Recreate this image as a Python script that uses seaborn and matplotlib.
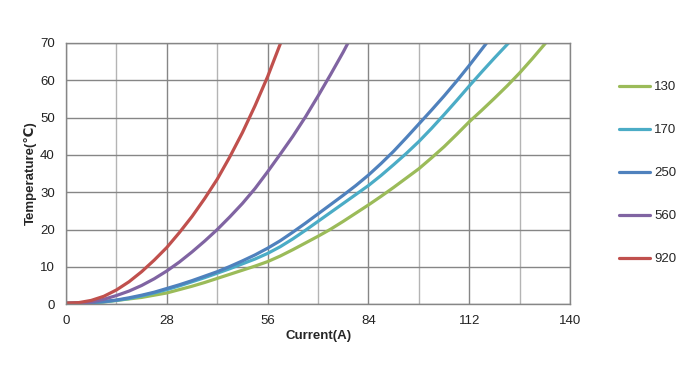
import matplotlib
matplotlib.use('Agg')
import matplotlib.pyplot as plt
from matplotlib.ticker import MultipleLocator
import seaborn as sns
import pandas as pd

# values (current A -> temperature C)
x_130 = [0, 3.5, 7, 10.5, 14, 17.5, 21, 24.5, 28, 31.5, 35, 38.5, 42, 45.5, 49, 52.5, 56,
         59.5, 63, 66.5, 70, 73.5, 77, 80.5, 84, 87.5, 91, 94.5, 98, 101.5, 105, 108.5, 112,
         115.5, 119, 122.5, 126, 129.5, 133.2]
y_130 = [0.2, 0.2, 0.3, 0.6, 1.0, 1.4, 1.8, 2.4, 3.0, 3.9, 4.8, 5.8, 6.9, 8.0, 9.1, 10.2, 11.4,
         12.9, 14.6, 16.4, 18.2, 20.1, 22.2, 24.4, 26.6, 28.9, 31.3, 33.8, 36.3, 39.2, 42.2, 45.5, 48.9,
         52.0, 55.2, 58.5, 62.0, 65.8, 70]

x_170 = [0, 3.5, 7, 10.5, 14, 17.5, 21, 24.5, 28, 31.5, 35, 38.5, 42, 45.5, 49, 52.5, 56,
         59.5, 63, 66.5, 70, 73.5, 77, 80.5, 84, 87.5, 91, 94.5, 98, 101.5, 105, 108.5, 112,
         115.5, 119, 122.9]
y_170 = [0.2, 0.3, 0.4, 0.6, 1.0, 1.5, 2.2, 3.0, 3.9, 4.9, 6.0, 7.1, 8.3, 9.5, 10.8, 12.1, 13.6,
         15.4, 17.5, 19.8, 22.2, 24.6, 27.0, 29.4, 31.8, 34.5, 37.4, 40.4, 43.6, 47.1, 50.8, 54.6, 58.5,
         62.3, 66.0, 70]

x_250 = [0, 3.5, 7, 10.5, 14, 17.5, 21, 24.5, 28, 31.5, 35, 38.5, 42, 45.5, 49, 52.5, 56,
         59.5, 63, 66.5, 70, 73.5, 77, 80.5, 84, 87.5, 91, 94.5, 98, 101.5, 105, 108.5, 112,
         116.8]
y_250 = [0.2, 0.3, 0.4, 0.7, 1.1, 1.7, 2.4, 3.2, 4.2, 5.2, 6.3, 7.5, 8.7, 10.1, 11.6, 13.2, 15.0,
         17.0, 19.3, 21.7, 24.2, 26.7, 29.2, 31.8, 34.6, 37.7, 41.0, 44.6, 48.3, 52.0, 55.8, 59.8, 64.0,
         70]

x_560 = [0, 3.5, 7, 10.5, 14, 17.5, 21, 24.5, 28, 31.5, 35, 38.5, 42, 45.5, 49, 52.5, 56,
         59.5, 63, 66.5, 70, 73.5, 77, 78.3]
y_560 = [0.2, 0.3, 0.6, 1.3, 2.3, 3.5, 5.0, 6.8, 8.9, 11.3, 14.0, 16.9, 20.0, 23.4, 27.0, 31.0, 35.5,
         40.2, 45.0, 50.2, 55.8, 61.6, 67.6, 70]

x_920 = [0, 3.5, 7, 10.5, 14, 17.5, 21, 24.5, 28, 31.5, 35, 38.5, 42, 45.5, 49, 52.5, 56, 59.6]
y_920 = [0.3, 0.4, 1.0, 2.1, 3.8, 6.0, 8.7, 11.8, 15.2, 19.2, 23.5, 28.3, 33.5, 39.5, 46.0, 53.2, 61.0, 70]

series = ['130', '170', '250', '560', '920']
colors = ['#9BBB59', '#4BACC6', '#4F81BD', '#8064A2', '#C0504D']

frames = []
for name, xs, ys in zip(series, [x_130, x_170, x_250, x_560, x_920],
                        [y_130, y_170, y_250, y_560, y_920]):
    frames.append(pd.DataFrame({'Current': xs, 'Temp': ys, 'series': name}))
df = pd.concat(frames, ignore_index=True)

sns.set_style('white')
plt.rcParams['font.family'] = ['Liberation Sans', 'DejaVu Sans']

fig = plt.figure(figsize=(6.97, 3.70), dpi=100)
ax = fig.add_axes([0.0947, 0.178, 0.7233, 0.7058])

sns.lineplot(data=df, x='Current', y='Temp', hue='series', hue_order=series,
             palette=colors, linewidth=2.3, sort=True, estimator=None, ax=ax)

ax.set_xlim(0, 140)
ax.set_ylim(0, 70)
ax.xaxis.set_major_locator(MultipleLocator(28))
ax.xaxis.set_minor_locator(MultipleLocator(14))
ax.yaxis.set_major_locator(MultipleLocator(10))
ax.grid(True, which='major', color='#868686', linewidth=1.0)
ax.grid(True, which='minor', axis='x', color='#b4b4b4', linewidth=1.0)
ax.set_axisbelow(True)
for s in ax.spines.values():
    s.set_color('#868686')
    s.set_linewidth(1.0)
ax.tick_params(which='both', length=0, labelsize=9.5, colors='#222222', pad=8)

ax.set_xlabel('Current(A)', fontsize=9.5, fontweight='bold', labelpad=2)
ax.set_ylabel('Temperature(℃)', fontsize=9.5, fontweight='bold', labelpad=2)

ax.legend(loc='upper left', bbox_to_anchor=(1.074, 0.899), frameon=False,
          fontsize=9.5, labelspacing=2.33, handlelength=2.3, handletextpad=0.35)

fig.savefig('out.png', dpi=100)
plt.close(fig)
